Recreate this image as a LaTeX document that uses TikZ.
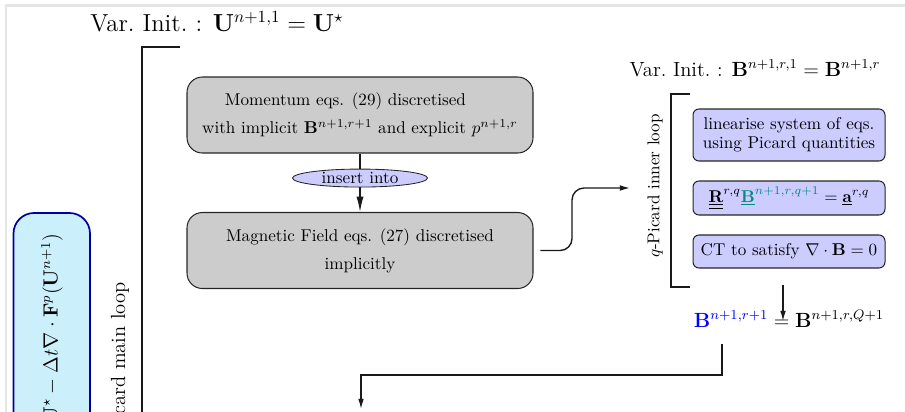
\documentclass[tikz,border=0pt]{standalone}
\usetikzlibrary{shapes.geometric,arrows.meta}
\newcommand\pxu{0.585pt}
\definecolor{myteal}{RGB}{0,140,125}
\definecolor{mynavy}{RGB}{0,0,160}
\tikzset{
  graybox/.style={draw=black!85, fill=black!20, rounded corners=9pt, line width=0.6pt,
    minimum width=346*\pxu, minimum height=76*\pxu, inner sep=0pt, align=center,
    font=\fontsize{10}{16.5}\selectfont},
  lavbox/.style={draw=black!85, fill=blue!20, rounded corners=3.5pt, line width=0.6pt,
    minimum width=192*\pxu, inner sep=0pt, align=center},
  ovalnode/.style={ellipse, draw=black!85, fill=blue!20, line width=0.5pt, inner sep=0pt,
    minimum width=135*\pxu, minimum height=18*\pxu},
  conn/.style={draw=black!90, line width=0.8pt},
  arr/.style={conn, -{Latex[length=6pt,width=3.4pt]}},
  bigarr/.style={conn, -{Latex[length=9pt,width=4.2pt]}},
  bracketline/.style={draw=black!90, line width=0.9pt},
}
\begin{document}
\begin{tikzpicture}[x=0.585pt, y=-0.585pt]
\useasboundingbox (0,0) rectangle (905,411);
\clip (0,0) rectangle (905,411);
% faint frame
\draw[gray!20, line width=1.2pt] (6,415) -- (6,5.5) -- (910,5.5);

% main loop
\node[font=\Large, anchor=base] (vinit) at (217,31) {Var.\ Init.\ : $\mathbf{U}^{n+1,1}=\mathbf{U}^{\star}$};
\draw[bracketline] (180,47) -- (142,47) -- (142,420);
\node[font=\large, rotate=90, anchor=east, inner sep=0pt] (mainlbl) at (120,282) {Picard main loop};

% left cyan box
\draw[draw=mynavy, fill=cyan!20, line width=1pt, rounded corners=12pt] (13.5,213) rectangle (90,520);
\node[font=\large, rotate=90, anchor=east, inner sep=0pt] (uexpr) at (52,233)
  {$\mathbf{U}^{\star}-\Delta t\nabla\cdot\mathbf{F}^{p}(\mathbf{U}^{n+1})$};

% momentum and magnetic boxes
\node[graybox] (mom) at (360,115) {Momentum eqs. (29) discretised\rule{17pt}{0pt}\\ with implicit $\mathbf{B}^{n+1,r+1}$ and explicit $p^{n+1,r}$};
\node[graybox] (mag) at (360,250.5) {Magnetic Field eqs. (27) discretised\\ implicitly};
\draw[bigarr] (mom.south) -- (mag.south |- mag.north) node[ovalnode, pos=0.42] (ins) {insert into};

% curved connector to inner loop
\coordinate (cin) at (630,188);
\draw[arr, rounded corners=7pt, shorten <=4pt] (mag.east) -- (572,250.5) -- (572,188) -- (cin);

% inner loop
\node[font=\large, anchor=base] (vinit2) at (755,76) {Var.\ Init.\ : $\mathbf{B}^{n+1,r,1}=\mathbf{B}^{n+1,r}$};
\draw[bracketline] (690,94) -- (671,94) -- (671,287) -- (690,287);
\node[rotate=90, inner sep=0pt] (innerlbl) at (655,186) {$q$-Picard inner loop};

\node[lavbox, minimum height=52*\pxu, font=\fontsize{10}{11.2}\selectfont] (lin) at (789,135) {linearise system of eqs.\\ using Picard quantities};
\node[lavbox, minimum height=34*\pxu] (sys) at (789,198)
  {$\underline{\underline{\mathbf{R}}}^{r,q}\textcolor{myteal}{\underline{\mathbf{B}}^{n+1,r,q+1}}=\underline{\mathbf{a}}^{r,q}$};
\node[lavbox, minimum height=33*\pxu] (ct) at (789,251.5) {CT to satisfy $\nabla\cdot\mathbf{B}=0$};

% result
\node[font=\large, anchor=base, inner sep=0pt] (res) at (789,327)
  {$\textcolor{blue}{\mathbf{B}^{n+1,r+1}}=\mathbf{B}^{n+1,r,Q+1}$};
\coordinate (ibot) at (783,285);
\coordinate (itip) at (783,321);
\draw[arr] (ibot) -- (itip);

% bottom connector
\coordinate (c1) at (722,344);
\coordinate (c2) at (361,409);
\draw[arr] (c1) -- (722,375) -- (361,375) -- (c2);
\end{tikzpicture}
\end{document}
